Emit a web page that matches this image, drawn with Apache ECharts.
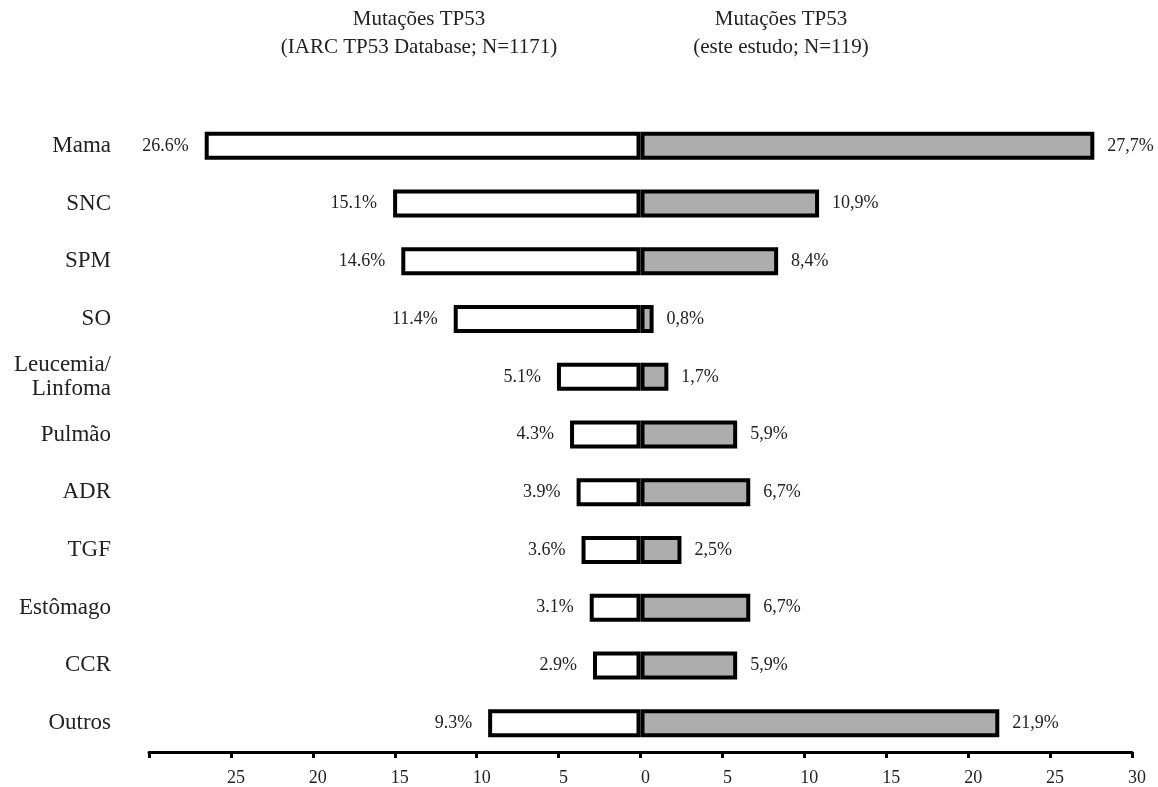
<!DOCTYPE html>
<html><head><meta charset="utf-8">
<script src="https://cdn.jsdelivr.net/npm/echarts@6/dist/echarts.min.js"></script>
<style>html,body{margin:0;padding:0;background:#fff}#c{width:1158px;height:787px}</style>
</head><body><div id="c"></div>
<script>
const categories = ['Mama','SNC','SPM','SO','Leucemia/\nLinfoma','Pulmão','ADR','TGF','Estômago','CCR','Outros'];
const iarcValues = [26.6, 15.1, 14.6, 11.4, 5.1, 4.3, 3.9, 3.6, 3.1, 2.9, 9.3];
const studyValues = [27.7, 10.9, 8.4, 0.8, 1.7, 5.9, 6.7, 2.5, 6.7, 5.9, 21.9];
const headerLeft = 'Mutações TP53\n(IARC TP53 Database; N=1171)';
const headerRight = 'Mutações TP53\n(este estudo; N=119)';

const serif = '"Liberation Serif", "DejaVu Serif", serif';
const chart = echarts.init(document.getElementById('c'), null, {renderer:'canvas'});
chart.setOption({
  animation: false,
  backgroundColor: '#fff',
  graphic: [
    {type:'text', x:419, y:5, style:{text:headerLeft, font:'21px '+serif, fill:'#222', textAlign:'center', lineHeight:28}},
    {type:'text', x:781, y:5, style:{text:headerRight, font:'21px '+serif, fill:'#222', textAlign:'center', lineHeight:28}}
  ],
  grid: {left:149, right:26, top:117, bottom:35, containLabel:false},
  xAxis: {
    type:'value', min:-30, max:30, interval:5,
    splitLine:{show:false},
    axisLine:{show:true, lineStyle:{color:'#000', width:3}},
    axisTick:{show:true, length:6, lineStyle:{color:'#000', width:3}},
    axisLabel:{fontFamily:serif, fontSize:18, color:'#222', margin:17, padding:[0,0,0,10],
      formatter: v => v === -30 ? '' : String(Math.abs(v))}
  },
  yAxis: {
    type:'category', data:categories, inverse:true,
    axisLine:{show:false}, axisTick:{show:false},
    axisLabel:{fontFamily:serif, fontSize:23, color:'#222', margin:38, lineHeight:24, align:'right'}
  },
  series: [
    {
      type:'bar', stack:'t', barWidth:28,
      data: iarcValues.map(v => -v),
      itemStyle:{color:'#fff', borderColor:'#000', borderWidth:4},
      label:{show:true, position:'left', distance:16, fontFamily:serif, fontSize:18, color:'#222',
        formatter: p => Math.abs(p.value).toFixed(1) + '%'}
    },
    {
      type:'bar', stack:'t', barWidth:28,
      data: studyValues,
      itemStyle:{color:'#adadad', borderColor:'#000', borderWidth:4},
      label:{show:true, position:'right', distance:13, fontFamily:serif, fontSize:18, color:'#222',
        formatter: p => p.value.toFixed(1).replace('.', ',') + '%'}
    }
  ]
});
</script></body></html>
